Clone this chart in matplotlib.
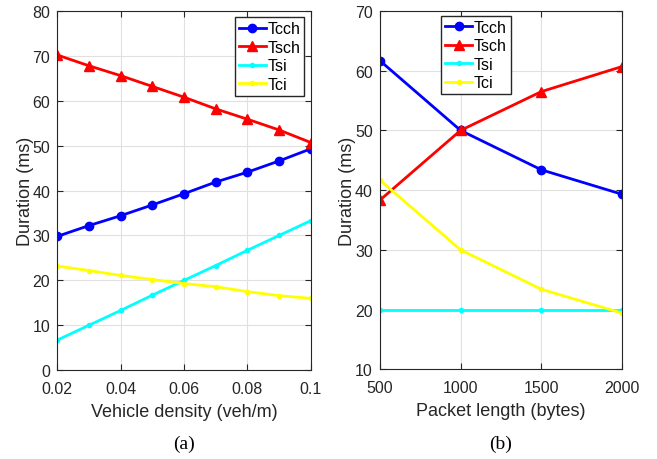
import matplotlib.pyplot as plt

# (a) vehicle density
density = [0.02, 0.03, 0.04, 0.05, 0.06, 0.07, 0.08, 0.09, 0.1]
tcch_a = [29.8, 32.2, 34.4, 36.8, 39.3, 41.9, 44.1, 46.6, 49.3]
tsch_a = [70.2, 67.8, 65.6, 63.2, 60.8, 58.2, 55.9, 53.5, 50.7]
tsi_a = [6.7, 10.0, 13.3, 16.7, 20.0, 23.3, 26.7, 30.0, 33.3]
tci_a = [23.2, 22.2, 21.1, 20.2, 19.3, 18.6, 17.5, 16.6, 16.0]

# (b) packet length
packet = [500, 1000, 1500, 2000]
tcch_b = [61.7, 50.0, 43.4, 39.3]
tsch_b = [38.3, 50.0, 56.5, 60.7]
tsi_b = [20, 20, 20, 20]
tci_b = [41.7, 30.0, 23.4, 19.4]

plt.rcParams['font.family'] = ['Liberation Sans', 'DejaVu Sans']

fig = plt.figure(figsize=(6.57, 4.6), dpi=100)
ax1 = fig.add_axes([0.087, 0.193, 0.386, 0.781])
ax2 = fig.add_axes([0.578, 0.195, 0.369, 0.779])


def draw(ax, x, tcch, tsch, tsi, tci):
    ax.plot(x, tcch, color='#0000ff', marker='o', markersize=6, lw=2, label='Tcch')
    ax.plot(x, tsch, color='#ff0000', marker='^', markersize=7, lw=2, label='Tsch')
    ax.plot(x, tsi, color='#00ffff', marker='o', markersize=3, lw=2, label='Tsi')
    ax.plot(x, tci, color='#ffff00', marker='o', markersize=3, lw=2, label='Tci')
    ax.grid(True, color='#e0e0e0', lw=0.8)
    ax.set_axisbelow(True)
    ax.tick_params(direction='in', top=True, right=True, labelsize=11.5,
                   colors='#262626', length=4)
    ax.tick_params(axis='x', pad=7.5)
    ax.tick_params(axis='y', pad=5)
    for s in ax.spines.values():
        s.set_color('#262626')
    ax.set_ylabel('Duration (ms)', fontsize=13, color='#262626', labelpad=-1)


def add_legend(ax, **kw):
    ax.legend(fontsize=11.5, fancybox=False, edgecolor='#262626', framealpha=1,
              handlelength=1.7, handletextpad=0.1, borderpad=0.25,
              labelspacing=0.22, **kw)


draw(ax1, density, tcch_a, tsch_a, tsi_a, tci_a)
ax1.set_xlim(0.02, 0.1)
ax1.set_ylim(0, 80)
ax1.set_xticks([0.02, 0.04, 0.06, 0.08, 0.1])
ax1.set_xticklabels(['0.02', '0.04', '0.06', '0.08', '0.1'])
ax1.set_xlabel('Vehicle density (veh/m)', fontsize=13, color='#262626', labelpad=5)
add_legend(ax1, loc='upper right', borderaxespad=0.4)

draw(ax2, packet, tcch_b, tsch_b, tsi_b, tci_b)
ax2.set_xlim(500, 2000)
ax2.set_ylim(10, 70)
ax2.set_xticks([500, 1000, 1500, 2000])
ax2.set_xlabel('Packet length (bytes)', fontsize=13, color='#262626', labelpad=5)
add_legend(ax2, loc='upper left', bbox_to_anchor=(0.24, 0.995), borderaxespad=0.2)

fig.text(0.28, 0.033, '(a)', family='Liberation Serif', fontsize=14, ha='center', va='center')
fig.text(0.762, 0.033, '(b)', family='Liberation Serif', fontsize=14, ha='center', va='center')

fig.savefig('out.png', dpi=100)
